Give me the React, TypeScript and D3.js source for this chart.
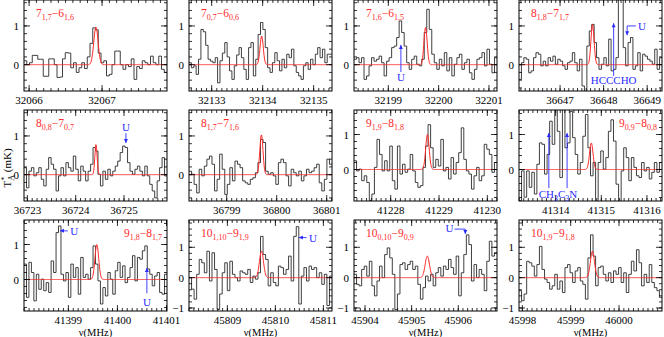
import React from "react";
import * as d3 from "d3";

// panel grid
const colLeft = [24, 189, 354, 519];
const rowTop = [0, 110, 220];
const pw = 143;
const ph = 91;
const FONT = "'Liberation Serif', 'Times New Roman', serif";

// frequency range (MHz) shown in each panel
const xRanges: [number, number][] = [
  [32065.93, 32067.89], [32132.555, 32135.36], [32198.318, 32201.16], [36646.057, 36649.34],
  [36722.93, 36725.89], [36798.246, 36801.106], [41227.24, 41230.2], [41313.196, 41316.33],
  [41398.096, 41401.01], [45808.2, 45811.18], [45903.764, 45906.83], [45997.93, 46000.89],
];

// T_A* range (mK)
const yRanges: [number, number][] = [
  [-0.68, 1.67], [-0.68, 1.67], [-0.68, 1.67], [-0.68, 1.67],
  [-0.68, 1.67], [-0.68, 1.67], [-0.9, 1.7], [-0.9, 1.7],
  [-0.9, 1.7], [-1.1, 1.9], [-1.1, 1.9], [-1.1, 1.9],
];

const transitions = [
  ["7", "1,7", "6", "1,6"], ["7", "0,7", "6", "0,6"], ["7", "1,6", "6", "1,5"], ["8", "1,8", "7", "1,7"],
  ["8", "0,8", "7", "0,7"], ["8", "1,7", "7", "1,6"], ["9", "1,9", "8", "1,8"], ["9", "0,9", "8", "0,8"],
  ["9", "1,8", "8", "1,7"], ["10", "1,10", "9", "1,9"], ["10", "0,10", "9", "0,9"], ["10", "1,9", "9", "1,8"],
];
const labelRight = [false, false, false, false, false, false, false, true, true, false, false, false];

// gaussian fit of each line: centre (MHz), peak (mK), FWHM (MHz)
const fitCenter = [32066.916, 32133.98, 32199.74, 36647.745, 36724.42, 36799.694, 41228.76, 41314.78, 41399.58, 45809.71, 45905.336, 45999.45];
const fitPeak = [0.97, 0.74, 0.96, 1.04, 0.78, 1.03, 1.0, 0.76, 1.0, 0.87, 0.71, 0.87];
const fitWidth = [0.07, 0.075, 0.075, 0.085, 0.055, 0.075, 0.085, 0.09, 0.09, 0.1, 0.11, 0.1];

// observed spectra, channel values across each panel (mK)
const spec1 = [0.1, 0, 0.05, 0.24, 0.24, 0.14, 0.14, -0.3, -0.3, 0.15, 0.15, 0, -0.33, -0.32, 0.15, 0.31, 0.3, -0.08, 0.05, -0.2, -0.08, 0.05, -0.1, 0.2, 0.55, 0.95, 0.9, 0.3, 0.05, 0.1, -0.29, -0.25, 0, 0.35, 0.35, 0, -0.12, 0, -0.05, 0.15, -0.38, -0.05, -0.1, 0.1, 0.05, 0, 0.22, 0.05, 0, 0.22, -0.12, -0.2];
const spec2 = [0.05, -0.08, -0.03, -0.25, 0.14, 0.91, 0.85, 0.5, 0.14, 0.09, 0.05, 0.18, -0.47, 0.1, 0.3, 0.57, 0.2, -0.16, -0.38, -0.03, 0.25, 0.44, 0.18, -0.12, -0.38, 0.44, 0.57, -0.29, 0.14, 0.78, 1.09, 0.91, 0.44, -0.08, -0.2, 0.05, 0.31, 0.1, -0.16, 0.14, -0.08, 0.27, 0.18, 0.4, -0.03, -0.2, -0.29, -0.38, -0.03, 0.05, -0.12, 0.14, 0, 0.27, 0.44, 0.18, 0.4, 0.05, 0.27, 0.27];
const spec3 = [0.14, 0.18, 0.05, 0.18, -0.38, -0.29, -0.03, 0.18, 0.09, 0.14, 0.22, 0.05, -0.29, 0.09, 0.18, 0.44, 0.48, 0.7, 1.13, 0.83, 0.48, 0.05, -0.12, 0.14, 0.22, 0.01, -0.03, 0.14, 0.83, 1.43, 0.91, 0.27, 0.05, -0.12, 0.14, -0.03, 0.31, -0.16, 0.18, -0.29, 0.01, 0.18, 0.27, -0.12, 0.05, 0.14, -0.21, -0.38, -0.12, 0.14, 0.18, 0.31, -0.03, 0.4, 0.01, -0.21, 0.18];
const spec4 = [-0.38, 0.05, 0.18, 0.14, -0.21, -0.16, 0.18, 0.31, 0.27, -0.03, 0.09, -0.03, 0.18, 0.09, 0.22, 0.01, 0.14, 0.09, -0.03, -0.12, 0.05, 0.09, 0.31, 0.05, -0.16, 0.14, -0.55, -0.7, 0.48, 0.87, 1.04, 0.57, 0.18, -0.12, 0.01, 0.18, -0.03, 0.66, -0.16, -0.12, 0.18, 2.2, 2.0, 0.44, -0.03, 0.57, 0.7, -0.12, -0.03, 0.31, -0.16, 0.27, 0.22, 0.14, 0.09, 0.01, 0.4, -0.12, 0.18];
const spec5 = [0.18, -0.34, 0.09, 0.18, -0.03, 0.05, 0.18, -0.12, -0.29, 0.14, 0.44, 0.27, 0.14, -0.42, -0.03, 0.18, -0.03, 0.31, 0.18, 0.09, 0.48, 0.14, -0.16, 0.22, 0.09, -0.16, 0.09, 0.27, 0.7, 0.61, 0.01, -0.29, 0.09, -0.12, 0.14, -0.03, 0.09, 0.22, 0.35, 0.57, 0.74, 0.7, 0.31, 0.09, 0.01, 0.14, 0.22, 0.09, -0.03, 0.22, -0.03, -0.25, -0.42, -0.6, -0.16, 0.18, 0.44, -0.03];
const spec6 = [0.09, 0.01, -0.25, -0.47, 0.14, -0.03, 0.22, 0.4, 0.48, 0.27, -0.42, -0.12, 0.53, 0.14, -0.51, -0.25, 0.18, -0.16, 0.35, 0.27, 0.18, -0.16, -0.21, -0.25, -0.12, -0.08, 0.05, 0.31, 0.91, 0.83, 0.09, 0.01, 0.05, -0.03, -0.25, 0.31, 0.4, 0.31, -0.03, -0.29, 0.14, 0.05, -0.03, 0.09, -0.16, -0.03, 0.14, 0.05, 0.09, 0.18, 0.27, -0.21, -0.42, -0.12, 0.4, 0.27];
const spec7 = [0.25, -0.04, 0.01, -0.32, -0.18, -0.37, -0.89, -0.7, 0.06, 0.86, 0.43, -0.04, 0.25, -0.04, 0.67, -0.32, -0.56, 0.67, -0.13, 0.15, -0.08, 0.01, 0.43, -0.04, -0.37, -0.51, -0.46, 0.06, 0.67, 1.28, 0.62, 0.06, 0.29, 0.1, 0.86, -0.04, 0.06, -0.27, 0.34, -0.13, 0.2, 0.48, 1.19, 0.29, -0.04, -0.13, -0.56, -0.18, 0.06, -0.32, -0.18, 0.72, 0.58, 0.43, -0.08, 0.2];
const spec8 = [-0.89, -0.04, -0.79, -0.04, -0.51, -0.08, -0.7, 0.15, 0.76, 0.72, -0.13, 0.43, 1.38, 0.72, 2.0, 1.09, -0.23, 2.0, 0.62, 0.76, 1.66, 0.91, 0.43, -0.13, 0.2, 0.95, 1.57, 0.62, -0.18, 0.2, -0.95, 0.2, 0.53, 0.01, 0.34, 1.09, 1.42, 0.81, -0.42, -0.95, -0.04, 0.62, 0.34, -0.32, 0.34, 0.06, -0.18, -0.23, 0.2, -0.04, 0.06, -0.27, -0.08, 0.2, -0.08, 0.2];
const spec9 = [0.44, -0.51, 0.49, 0.2, -0.61, 0.15, -0.28, 0.01, -0.32, -0.09, -0.37, 0.53, 0.2, 1.34, 1.53, 0.15, -0.04, 0.2, -0.51, 0.44, 0.06, 0.34, -0.42, 0.63, 0.06, 0.15, 0.01, 0.34, 0.96, 0.44, -0.04, -0.7, -0.23, -0.47, 0.2, 0.01, -0.42, 0.25, 0.49, 0.06, 0.39, -0.09, 0.06, 0.34, 0.68, -0.04, 0.63, 0.58, 0.82, 0.96, 0.3, 0.15, -0.18, 0.1, 0.2, -0.37, -0.42, 0.15];
const spec10 = [0, -0.38, -0.71, 0.11, 0.6, 0.49, 0.16, 0.87, -0.11, 0.82, 0.27, -1.05, -0.54, 0.16, 0.49, -0.43, 0.54, 0.11, 0, -0.11, 0.22, 0.16, 0.11, 0.27, -0.16, 0.05, -0.05, 0.16, 1.36, 0.76, 0.6, -0.27, 0.16, -0.16, -0.27, 0.38, 0.33, 0.11, 0.27, 0.71, -0.11, 1.36, 1.68, -0.87, 0.05, 0.33, -0.11, 0.38, 0.27, 0.33, 0, 0.16, -0.22, 0.11, -0.92, 0.05];
const spec11 = [0.11, -0.22, -0.27, 0.27, 0.38, 0.05, 0.54, -0.27, -0.6, -0.11, 0.38, 0, 0.76, 0.98, 0.65, 0.11, -1.05, -0.54, 0.43, 0.49, 0.27, 0.43, 0.54, 0.27, 0.38, -0.22, -0.71, -0.33, 0.05, -0.11, 0.11, -0.27, 0.16, 0.33, 0.05, 0.38, 0.27, 0.6, 0.33, 0.11, 0.71, -0.6, 0.16, 0.76, 1.41, 1.09, -0.11, 0.43, 0, 0.27, 0.11, -0.43, 0.54, 1.2, 0.71, 0.82];
const spec12 = [-0.43, -0.76, -0.54, 0.54, 0.49, 0.38, 0.05, 0.43, 1.03, 0.27, -0.05, -0.16, -0.38, -0.27, 0.11, -0.38, -0.11, -0.49, 0.33, 0.43, 0.16, -0.16, 0.22, 0.33, -0.11, -0.22, -0.71, 0.65, 1.41, 0.71, -0.27, 0.33, 0.38, 0.11, -0.11, 0.16, -0.16, 0.22, 0.11, 0.33, -0.16, 0.16, -0.49, 0.11, 0.54, 0.22, 0.92, 0.49, -0.27, 0.11, -0.16, 0.43, -0.16, -0.33, -0.43, -0.65];
const spectra = [spec1, spec2, spec3, spec4, spec5, spec6, spec7, spec8, spec9, spec10, spec11, spec12];

// blue annotations in data units (panel, MHz, mK)
type Arrow = { panel: number; pts: [number, number][]; text?: string; tx?: number; ty?: number; anchor?: string };
const arrows: Arrow[] = [
  { panel: 2, pts: [[32199.25, -0.19], [32199.25, 0.51]], text: "U", tx: 32199.25, ty: -0.42 },
  { panel: 3, pts: [[36648.23, -0.29], [36648.23, 1.07]], text: "HCCCHO", tx: 36648.23, ty: -0.5 },
  { panel: 3, pts: [[36648.74, 1.0], [36648.54, 1.0], [36648.54, 0.76]], text: "U", tx: 36648.88, ty: 0.9 },
  { panel: 4, pts: [[36725.04, 1.07], [36725.04, 0.82]], text: "U", tx: 36725.04, ty: 1.12 },
  { panel: 7, pts: [[41313.85, -0.53], [41313.85, 1.04]] },
  { panel: 7, pts: [[41314.25, -0.53], [41314.25, 1.04]], text: "CH3C3N", tx: 41314.05, ty: -0.82 },
  { panel: 8, pts: [[41398.99, 1.39], [41398.83, 1.39]], text: "U", tx: 41399.04, ty: 1.26, anchor: "start" },
  { panel: 8, pts: [[41400.6, -0.39], [41400.6, 0.33]], text: "U", tx: 41400.6, ty: -0.75 },
  { panel: 9, pts: [[45810.65, 1.32], [45810.49, 1.32]], text: "U", tx: 45810.7, ty: 1.19, anchor: "start" },
  { panel: 10, pts: [[45905.92, 1.6], [45906.15, 1.6], [45906.15, 1.44]], text: "U", tx: 45905.81, ty: 1.49 },
];

const BLUE = "#2b2bff";
const RED = "#ff2a2a";

function Label({ parts, x, y, anchor }: { parts: string[]; x: number; y: number; anchor: string }) {
  return (
    <text x={x} y={y} fill={RED} fontSize={11.5} fontFamily={FONT} textAnchor={anchor}>
      {parts[0]}
      <tspan dy={3} fontSize={8}>{parts[1]}</tspan>
      <tspan dy={-3}>{"\u2212" + parts[2]}</tspan>
      <tspan dy={3} fontSize={8}>{parts[3]}</tspan>
    </text>
  );
}

function Panel({ i }: { i: number }) {
  const [lo, hi] = xRanges[i];
  const x = d3.scaleLinear().domain([lo, hi]).range([0, pw]);
  const y = d3.scaleLinear().domain(yRanges[i]).range([ph, 0]);
  const vals = spectra[i];
  const df = (hi - lo) / vals.length;
  const pts: [number, number][] = vals.map((v, k) => [lo + k * df, v]);
  pts.push([hi, vals[vals.length - 1]]);
  const step = d3.line<[number, number]>().x((d) => x(d[0])).y((d) => y(d[1])).curve(d3.curveStepAfter);

  const c = fitCenter[i], a = fitPeak[i], s = fitWidth[i] / 2.3548;
  const model = d3.range(0, 401).map((k) => {
    const f = lo + ((hi - lo) * k) / 400;
    return [f, a * Math.exp(-((f - c) ** 2) / (2 * s * s))] as [number, number];
  });
  const smooth = d3.line<[number, number]>().x((d) => x(d[0])).y((d) => y(d[1]));

  const xMajor = d3.range(Math.ceil(lo), Math.floor(hi) + 1);
  const xMinor = d3.range(Math.ceil(lo * 10), Math.floor(hi * 10) + 1).map((v) => v / 10);
  const [ylo, yhi] = yRanges[i];
  const yMajor = d3.range(Math.ceil(ylo), Math.floor(yhi) + 1);
  const yMinor = d3.range(Math.ceil(ylo * 5), Math.floor(yhi * 5) + 1).map((v) => v / 5);
  const col = i % 4, row = Math.floor(i / 4);
  const clipId = `clip${i}`;

  return (
    <g transform={`translate(${colLeft[col]},${rowTop[row]})`}>
      <defs>
        <clipPath id={clipId}><rect width={pw} height={ph} /></clipPath>
      </defs>
      <g clipPath={`url(#${clipId})`}>
        <path d={step(pts) || ""} fill="none" stroke="#2a2a2a" strokeWidth={0.9} />
        <path d={smooth(model) || ""} fill="none" stroke={RED} strokeWidth={1} />
      </g>
      <g stroke="#000" strokeWidth={0.8}>
        {xMinor.map((v) => (
          <g key={"xm" + v}>
            <line x1={x(v)} x2={x(v)} y1={ph} y2={ph - 3} />
            <line x1={x(v)} x2={x(v)} y1={0} y2={3} />
          </g>
        ))}
        {xMajor.map((v) => (
          <g key={"xM" + v}>
            <line x1={x(v)} x2={x(v)} y1={ph} y2={ph - 6} />
            <line x1={x(v)} x2={x(v)} y1={0} y2={6} />
          </g>
        ))}
        {yMinor.map((v) => (
          <g key={"ym" + v}>
            <line x1={0} x2={3} y1={y(v)} y2={y(v)} />
            <line x1={pw} x2={pw - 3} y1={y(v)} y2={y(v)} />
          </g>
        ))}
        {yMajor.map((v) => (
          <g key={"yM" + v}>
            <line x1={0} x2={6} y1={y(v)} y2={y(v)} />
            <line x1={pw} x2={pw - 6} y1={y(v)} y2={y(v)} />
          </g>
        ))}
      </g>
      <rect width={pw} height={ph} fill="none" stroke="#000" strokeWidth={1} />
      {xMajor.map((v) => (
        <text key={"xl" + v} x={x(v)} y={ph + 13} textAnchor="middle" fontSize={11} fontFamily={FONT}>{v}</text>
      ))}
      {yMajor.map((v) => (
        <text key={"yl" + v} x={-5} y={y(v) + 4} textAnchor="end" fontSize={11} fontFamily={FONT}>
          {v < 0 ? "\u2212" + Math.abs(v) : v}
        </text>
      ))}
      <Label parts={transitions[i]} x={labelRight[i] ? pw - 5 : 12} y={17} anchor={labelRight[i] ? "end" : "start"} />
      {arrows.filter((a) => a.panel === i).map((a, k) => {
        const p = a.pts.map((d) => [x(d[0]), y(d[1])] as [number, number]);
        const tip = p[p.length - 1], prev = p[p.length - 2];
        const ang = Math.atan2(tip[1] - prev[1], tip[0] - prev[0]);
        const hl = 4, hw = 2;
        const head = [
          tip,
          [tip[0] - hl * Math.cos(ang) + hw * Math.sin(ang), tip[1] - hl * Math.sin(ang) - hw * Math.cos(ang)],
          [tip[0] - hl * Math.cos(ang) - hw * Math.sin(ang), tip[1] - hl * Math.sin(ang) + hw * Math.cos(ang)],
        ];
        return (
          <g key={"ar" + k}>
            <path d={d3.line()(p) || ""} fill="none" stroke={BLUE} strokeWidth={0.9} />
            <path d={"M" + head.map((h) => h.join(",")).join("L") + "Z"} fill={BLUE} />
            {a.text === "CH3C3N" ? (
              <text x={x(a.tx!)} y={y(a.ty!)} fill={BLUE} fontSize={11} fontFamily={FONT} textAnchor="middle">
                CH<tspan dy={3} fontSize={8}>3</tspan><tspan dy={-3}>C</tspan><tspan dy={3} fontSize={8}>3</tspan><tspan dy={-3}>N</tspan>
              </text>
            ) : a.text ? (
              <text x={x(a.tx!)} y={y(a.ty!)} fill={BLUE} fontSize={11} fontFamily={FONT} textAnchor={a.anchor || "middle"}>{a.text}</text>
            ) : null}
          </g>
        );
      })}
    </g>
  );
}

export default function App() {
  return (
    <svg width={664} height={337} style={{ position: "absolute", left: 0, top: 0, background: "#fff" }}>
      {spectra.map((_, i) => <Panel key={i} i={i} />)}
      <text transform="translate(11,168) rotate(-90)" textAnchor="middle" fontSize={11} fontFamily={FONT}>
        T<tspan dy={-4} fontSize={8}>*</tspan><tspan dy={7} dx={-4} fontSize={8}>A</tspan><tspan dy={-3}> (mK)</tspan>
      </text>
      {colLeft.map((l, k) => (
        <text key={k} x={l + pw / 2} y={336} textAnchor="middle" fontSize={10.5} fontFamily={FONT}>
          {"\u03bd(MHz)"}
        </text>
      ))}
    </svg>
  );
}
